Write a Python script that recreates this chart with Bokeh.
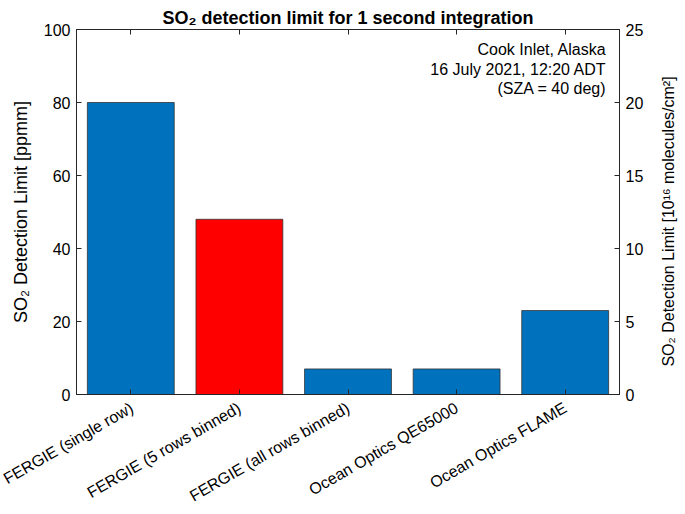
import math
from bokeh.plotting import figure
from bokeh.layouts import row
from bokeh.models import (LinearAxis, Range1d, FixedTicker, Label, ColumnDataSource)
from bokeh.core.properties import value
from bokeh.embed import file_html
from bokeh.resources import INLINE

categories = ["FERGIE (single row)", "FERGIE (5 rows binned)", "FERGIE (all rows binned)",
              "Ocean Optics QE65000", "Ocean Optics FLAME"]
limits_ppmm = [80, 48, 7, 7, 23]
bar_colors = ["#0072BD", "#FF0000", "#0072BD", "#0072BD", "#0072BD"]
left_ticks = [0, 20, 40, 60, 80, 100]
right_ticks = [0, 5, 10, 15, 20, 25]
note_lines = ["Cook Inlet, Alaska", "16 July 2021, 12:20 ADT", "(SZA = 40 deg)"]
right_label = "SO\u2082 Detection Limit [10\u00b9\u2076 molecules/cm\u00b2]"

xs = list(range(1, len(categories) + 1))
src = ColumnDataSource(dict(x=xs, top=limits_ppmm, color=bar_colors))

FONT = "Liberation Sans"
AX = "#262626"
H = 514
SIDE_W = 39
BT, BB = 29, 118

p = figure(width=685 - SIDE_W, height=H, output_backend="svg", toolbar_location=None,
           x_range=Range1d(0.5, 5.5), y_range=Range1d(0, 100),
           min_border_left=76, min_border_right=26, min_border_top=BT, min_border_bottom=BB)
p.title.text = "SO\u2082 detection limit for 1 second integration"
p.title.align = "center"
p.title.text_font = FONT
p.title.text_font_size = "18px"
p.title.text_font_style = "bold"
p.title.text_color = "black"
p.title.standoff = 4

p.vbar(x="x", top="top", width=0.8, bottom=0, fill_color="color",
       line_color="#333333", line_width=0.8, source=src)

p.xgrid.visible = False
p.ygrid.visible = False
p.outline_line_color = AX
p.outline_line_width = 1

def style(ax):
    ax.axis_line_color = AX
    ax.major_tick_line_color = AX
    ax.major_tick_in = 5
    ax.major_tick_out = 0
    ax.minor_tick_line_color = None
    ax.major_label_text_font = FONT
    ax.major_label_text_font_size = "16px"
    ax.major_label_text_color = "black"
    ax.major_label_standoff = 6
    ax.axis_label_text_font = FONT
    ax.axis_label_text_font_size = "18px"
    ax.axis_label_text_font_style = "normal"
    ax.axis_label_text_color = "black"

# bottom x axis
xa = p.xaxis[0]
style(xa)
xa.ticker = FixedTicker(ticks=xs)
xa.major_label_overrides = {x: c for x, c in zip(xs, categories)}
xa.major_label_orientation = math.pi / 6
xa.major_label_standoff = 12

# top axis (ticks only)
top = LinearAxis(ticker=FixedTicker(ticks=xs))
style(top)
top.major_label_text_alpha = 0
top.major_label_text_font_size = "1px"
top.major_label_standoff = 0
p.add_layout(top, "above")

# left y axis
ya = p.yaxis[0]
style(ya)
ya.ticker = FixedTicker(ticks=left_ticks)
ya.axis_label = "SO\u2082 Detection Limit [ppmm]"
ya.axis_label_standoff = 10

# right y axis
p.extra_y_ranges = {"right": Range1d(0, 25)}
ra = LinearAxis(y_range_name="right", ticker=FixedTicker(ticks=right_ticks))
style(ra)
p.add_layout(ra, "right")

for line, yv in zip(note_lines, [94.5, 89.1, 83.9]):
    p.add_layout(Label(x=5.38, y=yv, text=line, text_align="right", text_baseline="middle",
                       text_font=FONT, text_font_size="16px", text_color="black"))

# narrow side panel carrying the right axis title, reading bottom-to-top
side = figure(width=SIDE_W, height=H, output_backend="svg", toolbar_location=None,
              x_range=Range1d(0, SIDE_W), y_range=Range1d(0, 100),
              min_border_left=0, min_border_right=0,
              min_border_top=BT, min_border_bottom=BB)
side.axis.visible = False
side.grid.visible = False
side.outline_line_color = None
side.text(x=[22], y=[47.4], text=[right_label], angle=math.pi / 2,
          text_align="center", text_baseline="middle",
          text_font=value(FONT), text_font_size="16px", text_color="black")

layout = row(p, side, spacing=0)
open("out.html", "w").write(file_html(layout, INLINE))
